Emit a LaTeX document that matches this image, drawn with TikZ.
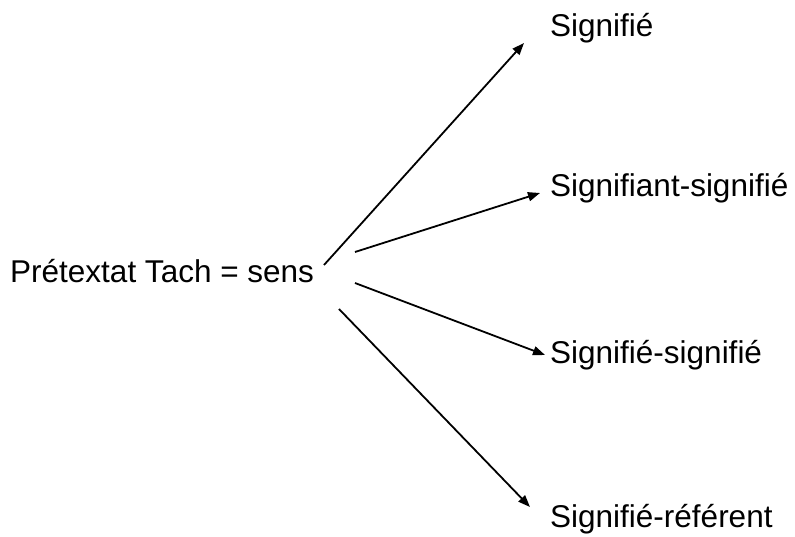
\documentclass[tikz,border=0pt]{standalone}
\usepackage{fontspec}
\setmainfont{Liberation Sans}
\usetikzlibrary{arrows.meta}
\begin{document}
\begin{tikzpicture}[x=1pt,y=1pt,
  lbl/.style={anchor=base west,inner sep=0pt,font=\fontsize{31.5}{36}\selectfont},
  conn/.style={line width=1.8pt,-{Triangle[length=12pt,width=9pt]}}]
\useasboundingbox (0,0) rectangle (795,536);
\node[lbl] (main) at (10,253) {Prétextat Tach = sens};
\node[lbl] (t1) at (550,499) {Signifié};
\node[lbl] (t2) at (550,339) {Signifiant-signifié};
\node[lbl] (t3) at (550,173) {Signifié-signifié};
\node[lbl] (t4) at (550,9) {Signifié-référent};
\coordinate (s1) at (324,271);
\coordinate (s2) at (355,284);
\coordinate (s3) at (355,253);
\coordinate (s4) at (339,227);
\coordinate (e1) at (524,493);
\coordinate (e2) at (540,343);
\coordinate (e3) at (545,181);
\coordinate (e4) at (530,29);
\draw[conn] (s1) -- (e1);
\draw[conn] (s2) -- (e2);
\draw[conn] (s3) -- (e3);
\draw[conn] (s4) -- (e4);
\end{tikzpicture}
\end{document}
